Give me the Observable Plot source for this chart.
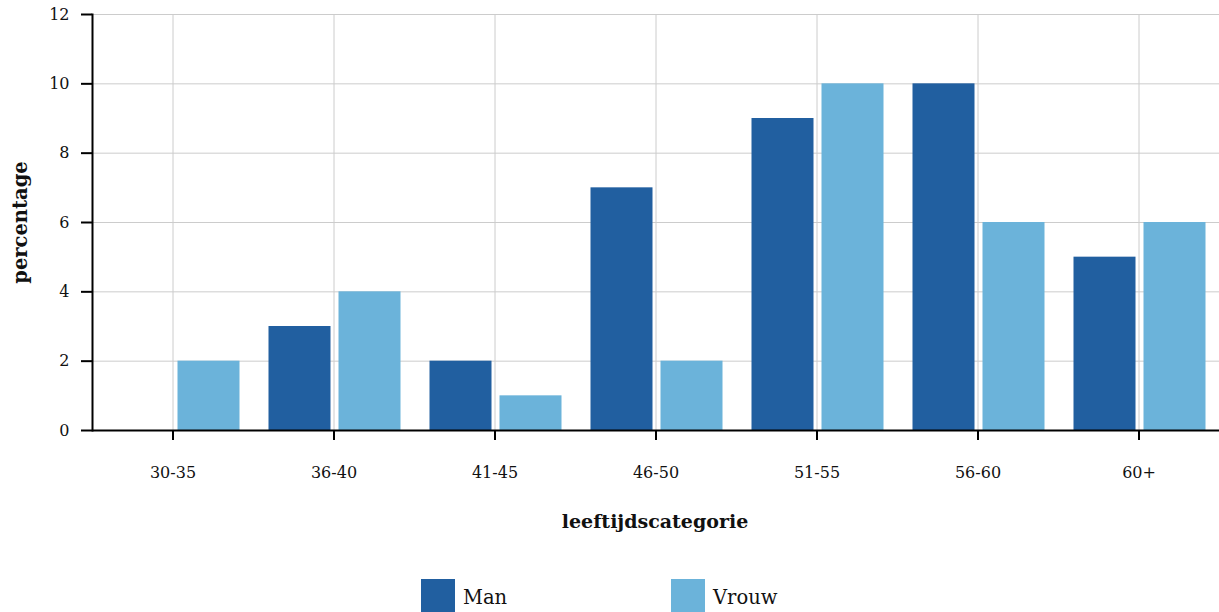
<!DOCTYPE html>
<html>
<head>
<meta charset="utf-8">
<script src="https://cdn.jsdelivr.net/npm/d3@7"></script>
<script src="https://cdn.jsdelivr.net/npm/@observablehq/plot@0.6"></script>
<style>
  body { margin: 0; background: #fff; font-family: "DejaVu Serif", serif; }
  #legend { display: flex; padding-left: 421px; margin-top: 34px; }
  .item { display: flex; align-items: flex-start; width: 250px; font-size: 19.5px; color: #111; }
  .sw { width: 34px; height: 34px; margin-right: 8px; }
  .item span { margin-top: 7px; }
</style>
</head>
<body>
<div id="chart"></div>
<div id="legend"></div>
<script>
const categories = ["30-35", "36-40", "41-45", "46-50", "51-55", "56-60", "60+"];
const series = ["Man", "Vrouw"];
const manValues = [0, 3, 2, 7, 9, 10, 5];
const vrouwValues = [2, 4, 1, 2, 10, 6, 6];
const colors = ["#215fa0", "#6bb3da"];
const yTicks = [0, 2, 4, 6, 8, 10, 12];

const man = categories.map((c, i) => ({cat: c, sex: "Man", v: manValues[i]}));
const vrouw = categories.map((c, i) => ({cat: c, sex: "Vrouw", v: vrouwValues[i]}));

const chart = Plot.plot({
  width: 1219,
  height: 545,
  marginLeft: 92,
  marginRight: 0,
  marginTop: 14,
  marginBottom: 115,
  style: {fontFamily: "DejaVu Serif, serif", fontSize: "16px", color: "#111"},
  x: {domain: categories, padding: 0, round: false, label: null},
  y: {domain: [0, 12], label: null},
  color: {domain: series, range: colors},
  marks: [
    Plot.gridX({stroke: "#ccc", strokeOpacity: 1}),
    Plot.gridY(yTicks, {stroke: "#ccc", strokeOpacity: 1}),
    Plot.barY(man, {x: "cat", y: "v", fill: "sex", insetLeft: 15.5, insetRight: 83.5}),
    Plot.barY(vrouw, {x: "cat", y: "v", fill: "sex", insetLeft: 85.5, insetRight: 13.5}),
    Plot.axisX({tickSize: 10, tickPadding: 26, stroke: "#000", strokeWidth: 2, fontSize: 16, label: null}),
    Plot.axisY(yTicks, {tickSize: 11, tickPadding: 12, stroke: "#000", strokeWidth: 2, fontSize: 16, label: null}),
    Plot.ruleY([0], {stroke: "#000", strokeWidth: 2}),
    Plot.frame({anchor: "left", stroke: "#000", strokeWidth: 2}),
    Plot.text(["leeftijdscategorie"], {frameAnchor: "bottom", lineAnchor: "middle", textAnchor: "middle", dy: 91, dx: -1, fontWeight: "bold", fontSize: 19, text: d => d}),
    Plot.text(["percentage"], {frameAnchor: "left", textAnchor: "middle", lineAnchor: "middle", dx: -72, rotate: -90, fontWeight: "bold", fontSize: 19.5, text: d => d})
  ]
});
document.getElementById("chart").appendChild(chart);

const legend = document.getElementById("legend");
series.forEach((s, i) => {
  const item = document.createElement("div");
  item.className = "item";
  const sw = document.createElement("div");
  sw.className = "sw";
  sw.style.background = colors[i];
  const label = document.createElement("span");
  label.textContent = s;
  item.appendChild(sw);
  item.appendChild(label);
  legend.appendChild(item);
});
</script>
</body>
</html>
